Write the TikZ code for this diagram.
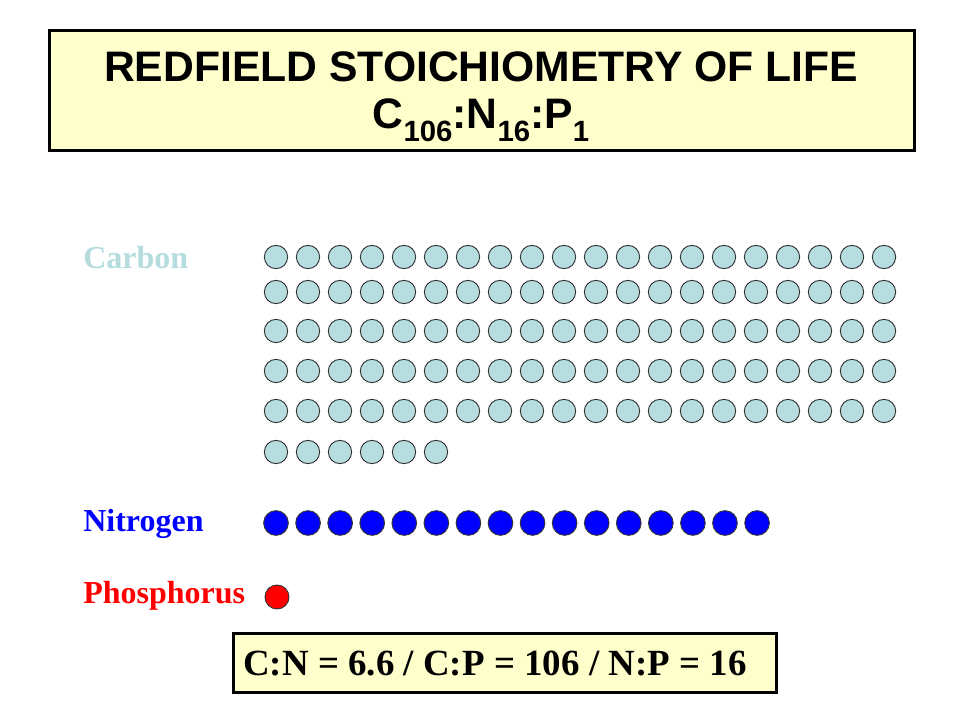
\documentclass[tikz,border=0pt]{standalone}
\usepackage{fontspec}
\setmainfont{Liberation Serif}
\newfontfamily\titlefont{Liberation Sans}
\definecolor{titlefill}{RGB}{255,255,204}
\definecolor{carbonfill}{RGB}{182,221,224}
\definecolor{carbontext}{RGB}{182,221,222}
\definecolor{nitroblue}{RGB}{0,0,255}
\definecolor{phosred}{RGB}{255,0,0}
\tikzset{
  titlebox/.style={draw=black, line width=2.25pt, fill=titlefill},
  ratiobox/.style={draw=black, line width=2.25pt, fill=titlefill},
  carbonatom/.style={circle, draw=black!80, line width=0.7pt, fill=carbonfill, minimum size=17.5pt, inner sep=0pt},
  nitroatom/.style={circle, draw=black!80, line width=0.7pt, fill=nitroblue, minimum size=18.5pt, inner sep=0pt},
  phosatom/.style={circle, draw=black!80, line width=0.7pt, fill=phosred, minimum size=18pt, inner sep=0pt},
  elemlabel/.style={anchor=west, font=\fontsize{24}{28}\selectfont\bfseries, inner sep=0pt}
}
\begin{document}
\begin{tikzpicture}[x=0.75pt, y=-0.75pt]
\useasboundingbox (0,0) rectangle (960,720);
\fill[white] (0,0) rectangle (960,720);
% title
\node[titlebox, minimum width=865*0.75pt, minimum height=120*0.75pt, anchor=north west] (title) at (48,29) {};
\node[font=\titlefont\bfseries\fontsize{32}{36}\selectfont, inner sep=0pt] (t1) at (481,67) {REDFIELD STOICHIOMETRY OF LIFE};
\node[font=\titlefont\bfseries\fontsize{32}{36}\selectfont, inner sep=0pt] (t2) at (481,120) {C\raisebox{-0.3em}{\fontsize{22}{24}\selectfont 106}:N\raisebox{-0.3em}{\fontsize{22}{24}\selectfont 16}:P\raisebox{-0.3em}{\fontsize{22}{24}\selectfont 1}};
% labels
\node[elemlabel, text=carbontext] (lc) at (83,258) {Carbon};
\node[elemlabel, text=nitroblue] (ln) at (83,524) {Nitrogen};
\node[elemlabel, text=phosred] (lp) at (83,596) {Phosphorus};
% carbon atoms
\foreach \r/\yy in {1/257,2/292,3/331,4/371,5/411} {
  \foreach \c in {1,...,20} {
    \node[carbonatom] (c-\r-\c) at ({276+(\c-1)*32},\yy) {};
  }
}
\foreach \c in {1,...,6} {
  \node[carbonatom] (c-6-\c) at ({276+(\c-1)*32},452) {};
}
% nitrogen atoms
\foreach \c in {1,...,16} {
  \node[nitroatom] (n-\c) at ({276+(\c-1)*32.07},523) {};
}
% phosphorus atom
\node[phosatom] (p-1) at (277,597) {};
% ratio box
\node[ratiobox, minimum width=543*0.75pt, minimum height=59*0.75pt, anchor=north west] (ratio) at (232,632) {};
\node[anchor=west, inner sep=0pt, font=\fontsize{27.7}{32}\selectfont\bfseries] (rt) at (243,663) {C:N = 6.6 / C:P = 106 / N:P = 16};
\end{tikzpicture}
\end{document}
